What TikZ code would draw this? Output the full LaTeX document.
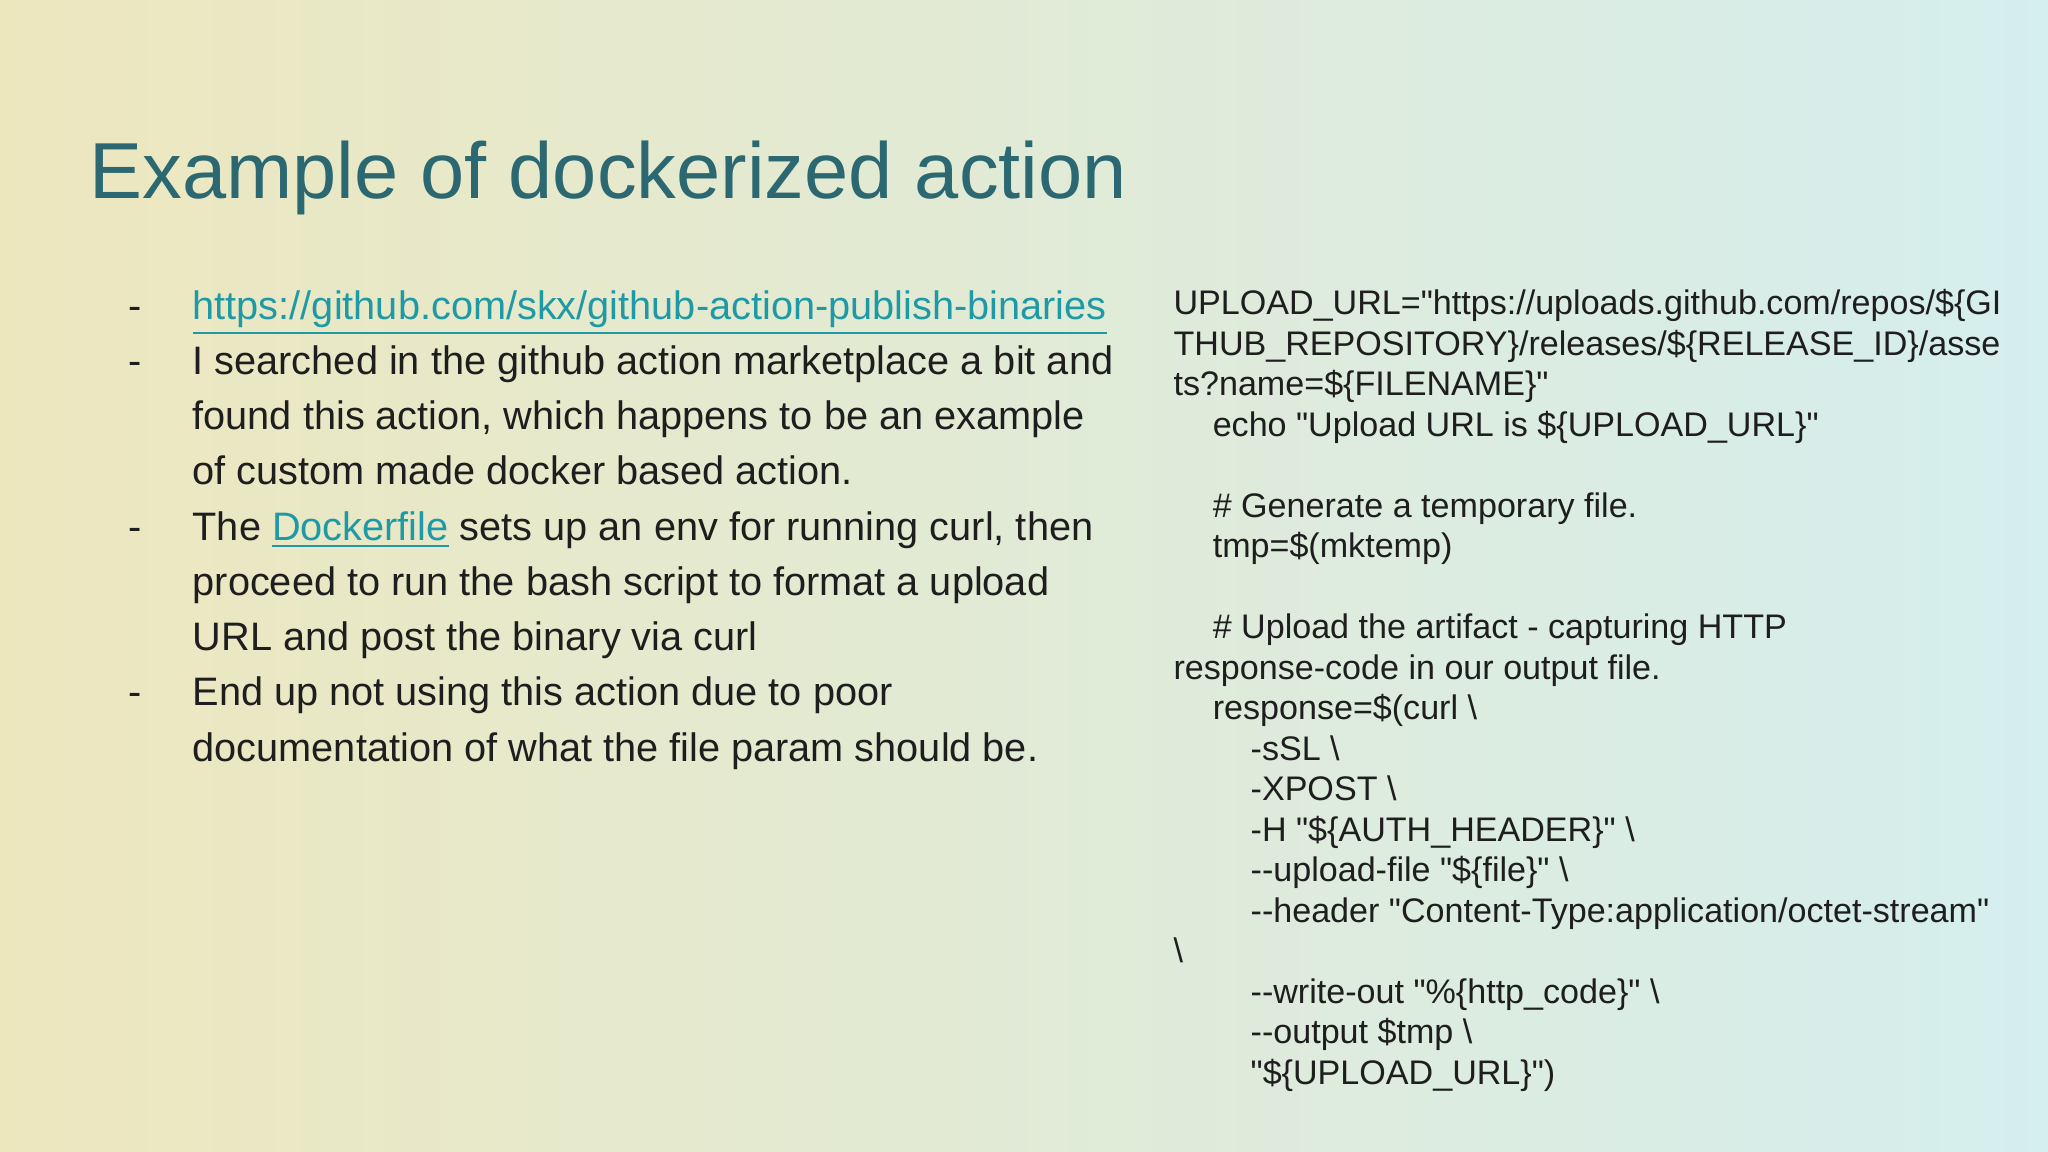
\documentclass[tikz,border=0pt]{standalone}
\usepackage{fontspec}
\setmainfont{Liberation Sans}[Ligatures=TeXOff]
\definecolor{titlec}{HTML}{2B6871}
\definecolor{linkc}{HTML}{1E9AA6}
\definecolor{txt}{HTML}{1E1E1E}
\definecolor{bgA}{HTML}{EDE7BE}
\definecolor{bgB}{HTML}{D5EEEE}
\tikzset{
 body/.style={anchor=base west,inner sep=0pt,text=txt,font=\fontsize{11.3pt}{13pt}\selectfont},
 code/.style={anchor=base west,inner sep=0pt,text=txt,font=\fontsize{9.7pt}{11pt}\selectfont},
}
\newcommand{\lnk}[1]{\textcolor{linkc}{\underline{#1}}}
\begin{document}
\begin{tikzpicture}[x=0.013061cm,y=-0.013061cm]
\useasboundingbox (0,0) rectangle (1568,882);
\shade[shading angle=20,left color=bgA,right color=bgB] (0,0) rectangle (1568,882);
\node[anchor=base west,inner sep=0pt,text=titlec,font=\fontsize{22.6pt}{26pt}\selectfont] (title) at (68,152) {Example of dockerized action};
% bullets
\foreach \y/\n in {245/b1,287/b2,414/b3,540/b4}{\node[body] (\n) at (98,\y) {-};}
\node[body] (l1) at (147,245) {\lnk{https://github.com/skx/github-action-publish-binaries}};
\node[body] (l2) at (147,287) {I searched in the github action marketplace a bit and};
\node[body] (l3) at (147,329) {found this action, which happens to be an example};
\node[body] (l4) at (147,371) {of custom made docker based action.};
\node[body] (l5) at (147,414) {The \lnk{Dockerfile} sets up an env for running curl, then};
\node[body] (l6) at (147,456) {proceed to run the bash script to format a upload};
\node[body] (l7) at (147,498) {URL and post the binary via curl};
\node[body] (l8) at (147,540) {End up not using this action due to poor};
\node[body] (l9) at (147,583) {documentation of what the file param should be.};
% code
\node[code] (c1) at (898,241) {UPLOAD\_URL="https://uploads.github.com/repos/\$\{GI};
\node[code] (c2) at (898,272) {THUB\_REPOSITORY\}/releases/\$\{RELEASE\_ID\}/asse};
\node[code] (c3) at (898,303) {ts?name=\$\{FILENAME\}"};
\node[code] (c4) at (928,334) {echo "Upload URL is \$\{UPLOAD\_URL\}"};
\node[code] (c5) at (928,396) {\# Generate a temporary file.};
\node[code] (c6) at (928,427) {tmp=\$(mktemp)};
\node[code] (c7) at (928,489) {\# Upload the artifact - capturing HTTP};
\node[code] (c8) at (898,520) {response-code in our output file.};
\node[code] (c9) at (928,551) {response=\$(curl \textbackslash};
\node[code] (c10) at (957,582) {-sSL \textbackslash};
\node[code] (c11) at (957,613) {-XPOST \textbackslash};
\node[code] (c12) at (957,644) {-H "\$\{AUTH\_HEADER\}" \textbackslash};
\node[code] (c13) at (957,675) {-{}-upload-file "\$\{file\}" \textbackslash};
\node[code] (c14) at (957,706) {-{}-header "Content-Type:application/octet-stream"};
\node[code] (c15) at (898,737) {\textbackslash};
\node[code] (c16) at (957,768) {-{}-write-out "\%\{http\_code\}" \textbackslash};
\node[code] (c17) at (957,799) {-{}-output \$tmp \textbackslash};
\node[code] (c18) at (957,830) {"\$\{UPLOAD\_URL\}")};
\end{tikzpicture}
\end{document}
